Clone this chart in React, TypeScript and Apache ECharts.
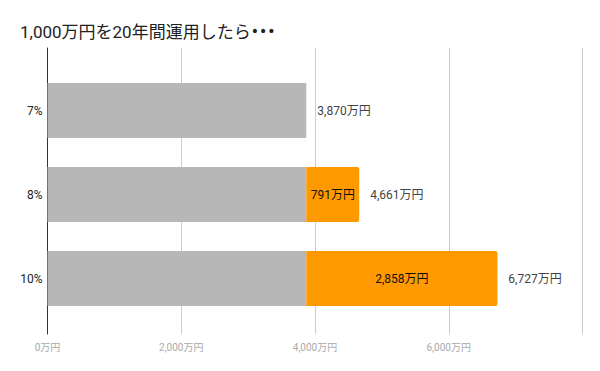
import React, { useEffect, useRef } from "react";
import * as echarts from "echarts";

const categories = ["7%", "8%", "10%"];
const principalGrowth = [3870, 3870, 3870];
const extraGrowth = [0, 791, 2858];
const totals = [3870, 4661, 6727];
const axisTicks = [0, 2000, 4000, 6000, 8000];
const titleMain = "1,000万円を20年間運用したら";
const titleDots = "•••";

const FONT = "Roboto, 'Noto Sans CJK JP', sans-serif";
const fmt = (v: number) => v.toLocaleString("en-US") + "万円";

export default function App() {
  const ref = useRef<HTMLDivElement>(null);
  useEffect(() => {
    if (!ref.current) return;
    const chart = echarts.init(ref.current, null, { renderer: "svg" });
    const xMax = axisTicks[axisTicks.length - 1];
    const interval = axisTicks[1] - axisTicks[0];
    chart.setOption({
      animation: false,
      backgroundColor: "#ffffff",
      textStyle: { fontFamily: FONT },
      title: {
        text: "{a|" + titleMain + "}{b|" + titleDots + "}",
        left: 15,
        top: 18,
        textStyle: {
          fontFamily: FONT,
          fontSize: 17,
          fontWeight: "normal",
          color: "#222222",
          rich: {
            a: { fontFamily: FONT, fontSize: 17, color: "#222222" },
            b: { fontFamily: "'DejaVu Sans', sans-serif", fontSize: 14, color: "#222222" },
          },
        },
      },
      grid: [
        { left: 47.5, right: 17.5, top: 68.5, bottom: 50.5 },
        { left: 47.5, right: 17.5, top: 48, bottom: 37 },
      ],
      xAxis: [
        {
          type: "value",
          gridIndex: 0,
          min: 0,
          max: xMax,
          interval,
          show: false,
        },
        {
          type: "value",
          gridIndex: 1,
          min: 0,
          max: xMax,
          interval,
          axisLine: { show: false },
          axisTick: { show: false },
          splitLine: { show: true, lineStyle: { color: "#cccccc", width: 1 } },
          axisLabel: {
            formatter: (v: number) => (v === xMax ? "" : fmt(v)),
            color: "#aaaaaa",
            fontSize: 10,
            fontFamily: FONT,
            margin: 8,
          },
        },
      ],
      yAxis: [
        {
          type: "category",
          gridIndex: 0,
          data: categories,
          inverse: true,
          axisLine: { show: false },
          axisTick: { show: false },
          splitLine: { show: false },
          axisLabel: { color: "#222222", fontSize: 12, fontFamily: FONT, margin: 5 },
        },
        {
          type: "value",
          gridIndex: 1,
          min: 0,
          max: 1,
          axisLine: { show: true, onZero: false, lineStyle: { color: "#333333", width: 1 } },
          axisTick: { show: false },
          axisLabel: { show: false },
          splitLine: { show: false },
        },
      ],
      series: [
        {
          type: "bar",
          name: "base",
          xAxisIndex: 0,
          yAxisIndex: 0,
          stack: "s",
          barWidth: 55,
          data: principalGrowth,
          itemStyle: { color: "#b7b7b7" },
          z: 3,
        },
        {
          type: "bar",
          name: "extra",
          xAxisIndex: 0,
          yAxisIndex: 0,
          stack: "s",
          barWidth: 55,
          data: extraGrowth,
          itemStyle: { color: "#ff9900", borderRadius: [0, 2, 2, 0] },
          label: {
            show: true,
            position: "inside",
            formatter: (p: any) => (p.value > 0 ? fmt(p.value) : ""),
            color: "#111111",
            fontSize: 12,
            fontFamily: FONT,
          },
          z: 3,
        },
        {
          type: "bar",
          name: "total",
          xAxisIndex: 0,
          yAxisIndex: 0,
          barWidth: 55,
          barGap: "-100%",
          data: totals,
          itemStyle: { color: "rgba(0,0,0,0)" },
          label: {
            show: true,
            position: "right",
            distance: 11,
            formatter: (p: any) => fmt(p.value),
            color: "#444444",
            fontSize: 12,
            fontFamily: FONT,
          },
          silent: true,
          z: 4,
        },
      ],
    });
    return () => chart.dispose();
  }, []);
  return <div ref={ref} style={{ width: 600, height: 371, margin: -8 }} />;
}
